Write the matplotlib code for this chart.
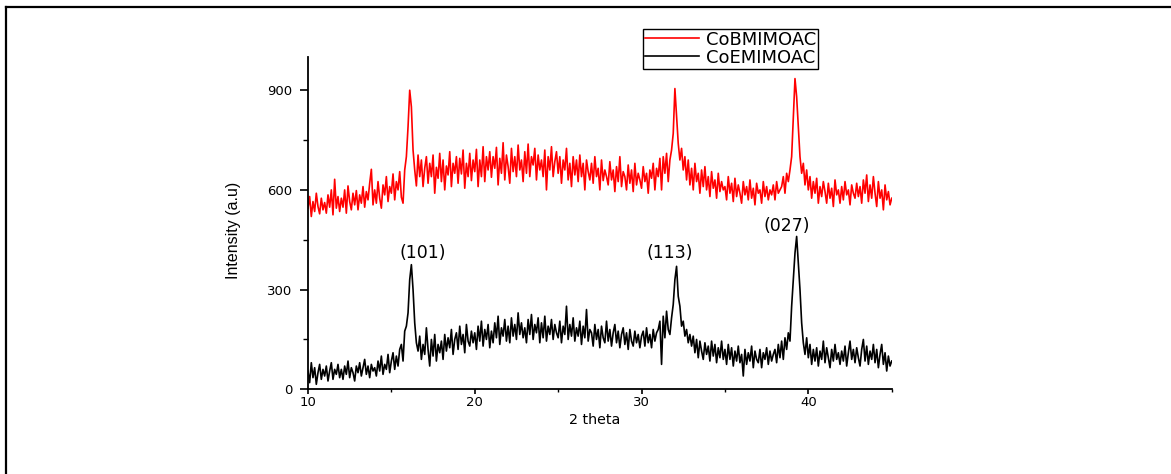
import numpy as np
import matplotlib
matplotlib.use('Agg')
import matplotlib.pyplot as plt
from matplotlib.lines import Line2D

# scan runs 10 -> 45 deg (2 theta), one reading every 0.1 deg
scan_start = 10.0
scan_end = 45.0

# CoBMIMOAC (red), one row per degree
cobmimoac = [
    545, 580, 520, 565, 535, 590, 550, 528, 575, 540,
    562, 530, 585, 548, 600, 525, 632, 545, 580, 535,
    575, 548, 600, 530, 612, 565, 540, 590, 555, 598,
    540, 585, 560, 610, 548, 595, 570, 620, 662, 555,
    600, 560, 625, 575, 545, 615, 585, 640, 565, 610,
    590, 648, 570, 625, 600, 655, 578, 560, 660, 700,
    790, 900, 850, 720, 660, 612, 705, 640, 690, 610,
    665, 700, 620, 680, 640, 705, 590, 668, 635, 710,
    625, 690, 600, 672, 645, 715, 610, 680, 650, 700,
    620, 695, 648, 720, 605, 680, 640, 710, 628, 690,
    655, 722, 610, 690, 640, 730, 625, 700, 660, 715,
    638, 700, 665, 728, 615, 695, 650, 742, 630, 705,
    670, 620, 725, 655, 700, 640, 735, 660, 690, 625,
    715, 650, 738, 640, 700, 675, 725, 630, 705, 660,
    690, 640, 720, 600, 700, 660, 730, 640, 685, 715,
    650, 700, 620, 690, 660, 725, 630, 680, 610, 700,
    645, 690, 625, 705, 640, 680, 600, 690, 655, 630,
    680, 620, 700, 640, 665, 600, 690, 628, 660, 640,
    615, 685, 630, 660, 595, 670, 625, 700, 610, 655,
    640, 600, 675, 620, 660, 595, 680, 615, 650, 630,
    605, 670, 625, 650, 590, 660, 635, 680, 600, 665,
    640, 695, 600, 700, 650, 710, 625, 690, 720, 770,
    905, 820, 740, 690, 725, 660, 700, 630, 690, 615,
    665, 600, 680, 625, 650, 590, 660, 610, 670, 600,
    640, 580, 655, 605, 630, 575, 650, 595, 625, 600,
    610, 570, 640, 590, 620, 565, 635, 580, 615, 590,
    560, 625, 585, 610, 570, 630, 575, 605, 555, 620,
    590, 600, 560, 625, 580, 610, 570, 600, 585, 615,
    570, 625, 590, 600, 610, 640, 590, 650, 625, 660,
    700, 820, 935, 880, 790, 700, 650, 680, 615, 660,
    600, 640, 575, 625, 590, 635, 560, 610, 580, 625,
    595, 560, 620, 575, 605, 550, 630, 585, 600, 560,
    610, 570, 625, 585, 600, 555, 615, 590, 575, 620,
    580, 610, 560, 630, 590, 645, 565, 615, 575, 640,
    590, 550, 625, 575, 600, 540, 615, 570, 595, 555,
    575,
]

# CoEMIMOAC (black)
coemimoac = [
    55, 20, 80, 35, 65, 15, 50, 75, 30, 60,
    40, 70, 25, 55, 80, 30, 60, 45, 75, 35,
    60, 30, 70, 45, 85, 35, 65, 50, 25, 70,
    50, 80, 40, 65, 90, 45, 70, 35, 75, 55,
    65, 40, 85, 55, 100, 45, 75, 60, 105, 50,
    85, 110, 60, 100, 70, 120, 135, 85, 175, 190,
    230, 330, 375, 300, 200, 140, 115, 160, 90, 135,
    105, 185, 120, 70, 150, 100, 165, 85, 135, 110,
    145, 90, 165, 115, 155, 125, 180, 105, 150, 170,
    120, 190, 135, 165, 110, 195, 145, 130, 175, 140,
    170, 120, 190, 145, 205, 130, 180, 150, 195, 125,
    175, 140, 200, 155, 220, 135, 185, 160, 210, 145,
    190, 140, 215, 160, 195, 150, 230, 165, 200, 155,
    185, 140, 210, 165, 225, 150, 195, 170, 215, 140,
    200, 155, 220, 145, 190, 165, 210, 150, 195, 170,
    155, 205, 140, 190, 165, 250, 150, 195, 160, 215,
    145, 185, 160, 205, 135, 190, 155, 240, 145, 180,
    170, 130, 195, 150, 180, 125, 190, 155, 140, 205,
    145, 180, 130, 170, 195, 140, 175, 125, 165, 185,
    135, 170, 120, 180, 145, 130, 175, 140, 165, 125,
    160, 175, 130, 185, 140, 165, 125, 180, 145, 170,
    180, 205, 75, 220, 155, 235, 180, 165, 215, 255,
    330, 370, 280, 250, 190, 205, 160, 180, 140, 165,
    130, 160, 110, 150, 95, 145, 115, 90, 140, 105,
    130, 85, 145, 100, 135, 80, 125, 95, 145, 90,
    120, 75, 135, 90, 125, 70, 115, 85, 130, 80,
    105, 40, 120, 75, 110, 85, 130, 65, 115, 90,
    80, 120, 65, 110, 90, 125, 75, 115, 85, 105,
    120, 80, 135, 95, 145, 90, 155, 120, 170, 145,
    250, 330, 410, 460, 380, 300, 200, 140, 105, 155,
    95, 135, 75, 120, 85, 125, 70, 115, 90, 145,
    80, 125, 95, 65, 120, 85, 135, 90, 110, 75,
    115, 85, 130, 70, 110, 145, 90, 120, 80, 125,
    95, 70, 120, 150, 85, 130, 75, 115, 90, 135,
    80, 120, 65, 105, 135, 75, 110, 55, 100, 70,
    85,
]

peak_labels = ['(101)', '(113)', '(027)']
peak_pos = [16.9, 31.7, 38.7]
peak_height = [410, 410, 492]

two_theta = np.linspace(scan_start, scan_end, len(cobmimoac))

fig = plt.figure(figsize=(11.71, 4.74), dpi=100)
ax = fig.add_axes([0.2630, 0.1787, 0.4985, 0.7011])

ax.plot(two_theta, cobmimoac, color='#ff0000', lw=1.2, label='CoBMIMOAC')
ax.plot(two_theta, coemimoac, color='black', lw=1.2, label='CoEMIMOAC')

for lab, px, py in zip(peak_labels, peak_pos, peak_height):
    ax.text(px, py, lab, ha='center', va='center', fontsize=12.5)

ax.set_xlim(10, 45)
ax.set_ylim(0, 1000)
ax.set_xticks([10, 20, 30, 40])
ax.set_xticks([15, 25, 35, 45], minor=True)
ax.set_yticks([0, 300, 600, 900])
ax.set_yticks([150, 450, 750], minor=True)

for s in ['top', 'right']:
    ax.spines[s].set_visible(False)
for s in ['left', 'bottom']:
    ax.spines[s].set_linewidth(1.3)

ax.tick_params(axis='y', which='major', length=6, width=1.2, pad=5, labelsize=9.5)
ax.tick_params(axis='y', which='minor', length=3.4, width=1.0)
ax.tick_params(axis='x', which='major', length=3.6, width=1.2, pad=1.5, labelsize=9.5)
ax.tick_params(axis='x', which='minor', length=2.2, width=1.0)

ax.set_xlabel('2 theta', fontsize=10.3)
ax.set_ylabel('Intensity (a.u)', fontsize=11.5, family=['Liberation Sans', 'DejaVu Sans'])
ax.xaxis.set_label_coords(0.491, -0.07)
ax.yaxis.set_label_coords(-0.114, 0.478)

leg = ax.legend(loc='upper left', bbox_to_anchor=(643 / 1171, 1 - 29 / 474),
                bbox_transform=fig.transFigure, borderaxespad=0, fontsize=13,
                frameon=True, fancybox=False, framealpha=1, edgecolor='black',
                labelspacing=0.0, borderpad=0.1, handlelength=3.0,
                handletextpad=0.4)
leg.get_frame().set_linewidth(1.0)

# border lines round the figure (left and top only)
fig.add_artist(Line2D([6 / 1171, 6 / 1171], [0, 1 - 7 / 474], color='black', lw=1.6,
                      transform=fig.transFigure))
fig.add_artist(Line2D([6 / 1171, 1], [1 - 7 / 474, 1 - 7 / 474], color='black', lw=1.6,
                      transform=fig.transFigure))

fig.savefig('out.png', dpi=100)
